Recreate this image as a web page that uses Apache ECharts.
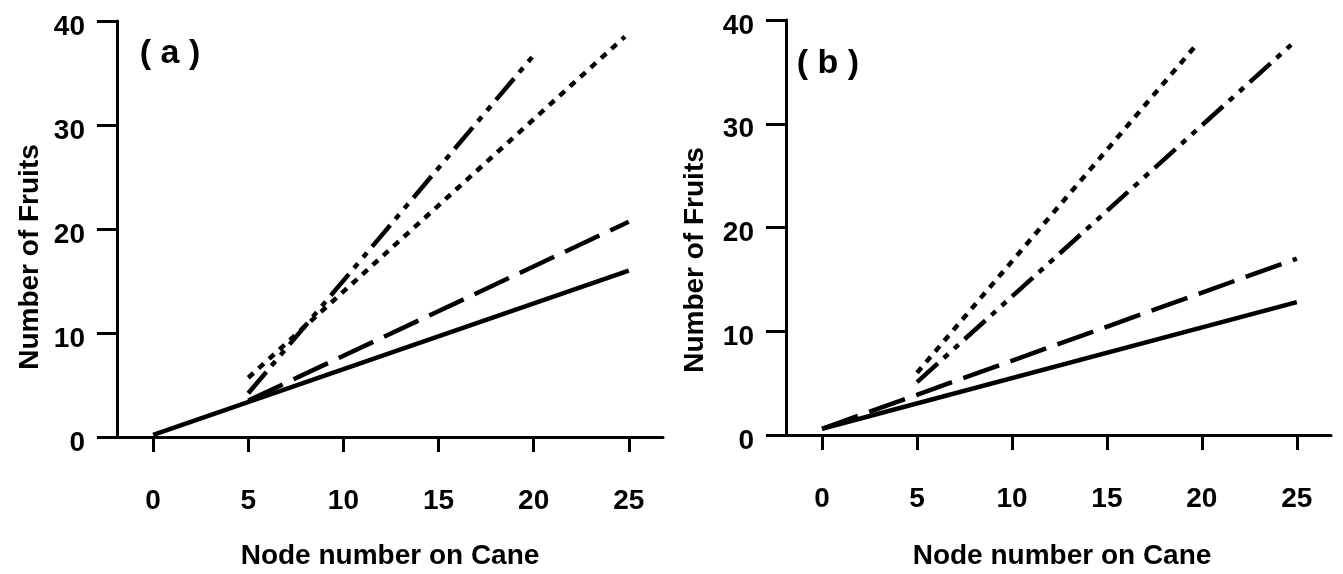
<!DOCTYPE html>
<html>
<head>
<meta charset="utf-8">
<script src="https://cdn.jsdelivr.net/npm/echarts@6/dist/echarts.min.js"></script>
<style>
html,body{margin:0;padding:0;background:#fff;}
#chart{width:1343px;height:574px;}
</style>
</head>
<body>
<div id="chart"></div>
<script>
// ---- data ----
const xTicks = [0, 5, 10, 15, 20, 25];
const yTicks = [0, 10, 20, 30, 40];
const panelLabels = ['(a)', '(b)'];
const xTitle = 'Node number on Cane';
const yTitle = 'Number of Fruits';

// panel (a)
const aSolid    = [[0, 0.2], [25, 16.0]];
const aLongDash = [[5, 3.5], [25, 20.7]];
const aDashDot  = [[5, 4.2], [20, 36.7]];
const aDotted   = [[5, 5.7], [24.8, 38.5]];
// panel (b)
const bSolid    = [[0, 0.6], [25, 12.8]];
const bLongDash = [[0, 0.6], [25, 17.0]];
const bDashDot  = [[5, 5.1], [24.7, 37.6]];
const bDotted   = [[5, 6.0], [19.8, 37.8]];

// ---- styles ----
const FONT = 'Liberation Sans, Arial, sans-serif';
const INK = '#000';
const LW = 4.5;
const styles = {
  solid: 'solid',
  longDash: [38, 12],
  dashDot: [28, 8, 6, 8, 6, 8],
  dotted: [7, 7]
};

function xAxis(gi) {
  return {
    gridIndex: gi, type: 'value', min: -1.9, max: 26.8,
    axisLine: { show: true, onZero: false, lineStyle: { color: INK, width: 3 } },
    axisTick: { show: true, length: 15, customValues: xTicks, lineStyle: { color: INK, width: 3 } },
    axisLabel: { customValues: xTicks, margin: 50, fontSize: 28, fontWeight: 'bold', color: INK, fontFamily: FONT },
    splitLine: { show: false }
  };
}
function yAxis(gi) {
  return {
    gridIndex: gi, type: 'value', min: 0, max: 40, interval: 10,
    axisLine: { show: true, onZero: false, lineStyle: { color: INK, width: 3 } },
    axisTick: { show: true, length: 20, lineStyle: { color: INK, width: 3 } },
    axisLabel: { margin: 32, color: INK,
      formatter: function (v) { return '{v|' + v + '}'; },
      rich: { v: { fontSize: 28, fontWeight: 'bold', fontFamily: FONT, color: INK, padding: [12, 0, 0, 0] } } },
    splitLine: { show: false }
  };
}
function line(gi, data, type) {
  return {
    type: 'line', xAxisIndex: gi, yAxisIndex: gi, data: data,
    symbol: 'none', showSymbol: false, silent: true,
    lineStyle: { color: INK, width: LW, type: type, cap: 'butt' }
  };
}
function vtext(x, y, txt) {
  return { type: 'text', x: x, y: y, rotation: Math.PI / 2,
    style: { text: txt, x: 0, y: 0, align: 'center', verticalAlign: 'middle',
      font: 'bold 28px ' + FONT, fill: INK } };
}
function htext(x, y, txt, size) {
  return { type: 'text', x: x, y: y,
    style: { text: txt, x: 0, y: 0, align: 'center', verticalAlign: 'middle',
      font: 'bold ' + size + 'px ' + FONT, fill: INK } };
}

const chart = echarts.init(document.getElementById('chart'), null, { renderer: 'canvas' });
chart.setOption({
  animation: false,
  backgroundColor: '#fff',
  grid: [
    { left: 117, top: 21, width: 546, height: 416 },
    { left: 786, top: 20, width: 545, height: 415 }
  ],
  xAxis: [xAxis(0), xAxis(1)],
  yAxis: [yAxis(0), yAxis(1)],
  series: [
    line(0, aSolid, styles.solid),
    line(0, aLongDash, styles.longDash),
    line(0, aDashDot, styles.dashDot),
    line(0, aDotted, styles.dotted),
    line(1, bSolid, styles.solid),
    line(1, bLongDash, styles.longDash),
    line(1, bDashDot, styles.dashDot),
    line(1, bDotted, styles.dotted)
  ],
  graphic: [
    vtext(30, 257, yTitle),
    vtext(695, 260, yTitle),
    htext(390, 556, xTitle, 28),
    htext(1062, 556, xTitle, 28),
    htext(170, 54, panelLabels[0].split('').join(' '), 34),
    htext(828, 64, panelLabels[1].split('').join(' '), 34)
  ]
});
</script>
</body>
</html>
